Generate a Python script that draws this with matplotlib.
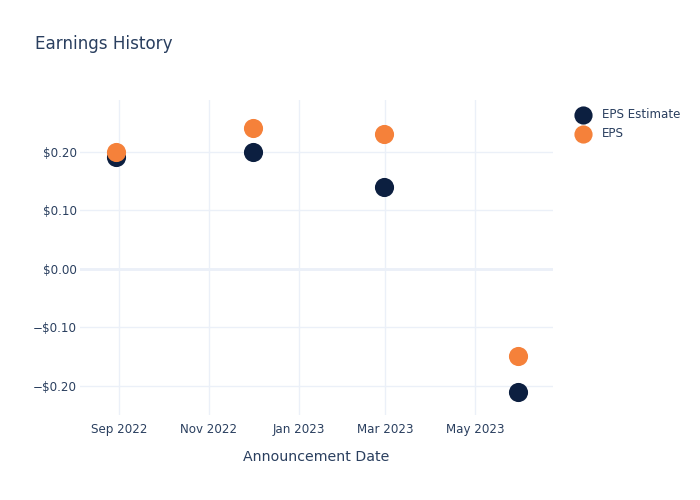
import matplotlib
matplotlib.use("Agg")
import matplotlib.pyplot as plt
import matplotlib.dates as mdates
import numpy as np
from datetime import datetime
from matplotlib.ticker import FuncFormatter, FixedLocator

dates = ["2022-08-30", "2022-12-01", "2023-02-28", "2023-05-30"]
eps_estimate = [0.19, 0.20, 0.14, -0.21]
eps_actual = [0.20, 0.24, 0.23, -0.15]
series_names = ["EPS Estimate", "EPS"]
x_ticks = ["2022-09-01", "2022-11-01", "2023-01-01", "2023-03-01", "2023-05-01"]
x_tick_labels = ["Sep 2022", "Nov 2022", "Jan 2023", "Mar 2023", "May 2023"]
y_ticks = [-0.20, -0.10, 0.00, 0.10, 0.20]

plt.rcParams['font.family'] = ['DejaVu Sans']
text_color = "#2a3f5f"
grid_color = "#ebf0f8"

fig = plt.figure(figsize=(7, 5), dpi=100)
ax = fig.add_axes([80/700, 1 - 415/500, (553 - 80)/700, (415 - 100)/500])

xd = [datetime.strptime(d, "%Y-%m-%d") for d in dates]
ax.scatter(xd, eps_estimate, s=190, color="#0c1f40", zorder=3, label=series_names[0], linewidths=0)
ax.scatter(xd, eps_actual, s=190, color="#f5813a", zorder=4, label=series_names[1], linewidths=0)

ax.set_xlim(datetime(2022, 8, 5, 7), datetime(2023, 6, 23))
ax.set_ylim(-0.25, 0.288)

xt = [mdates.date2num(datetime.strptime(d, "%Y-%m-%d")) for d in x_ticks]
ax.xaxis.set_major_locator(FixedLocator(xt))
ax.set_xticklabels(x_tick_labels)
ax.set_yticks(y_ticks)
ax.yaxis.set_major_formatter(FuncFormatter(lambda v, p: ("\u2212$%.2f" % abs(v)) if v < -1e-9 else "$%.2f" % abs(v)))

ax.grid(True, color=grid_color, linewidth=1, zorder=0)
ax.axhline(0, color=grid_color, linewidth=2, zorder=1)
for s in ax.spines.values():
    s.set_visible(False)
ax.tick_params(axis='y', length=0, labelsize=8.6, colors=text_color, pad=2)
ax.tick_params(axis='x', length=0, labelsize=8.6, colors=text_color, pad=6)

ax.set_xlabel("Announcement Date", fontsize=10.2, color=text_color, labelpad=9.5)

fig.text(35/700, 1 - 44/500, "Earnings History", fontsize=12.1, color=text_color, va="center", ha="left")

leg = fig.legend(loc="upper left", bbox_to_anchor=(570/700, 1 - 103/500), frameon=False,
                 fontsize=8.6, labelcolor=text_color, handletextpad=1.0, labelspacing=0.55,
                 markerscale=0.95, borderaxespad=0, handlelength=1.3)

fig.savefig("out.png", dpi=100)
